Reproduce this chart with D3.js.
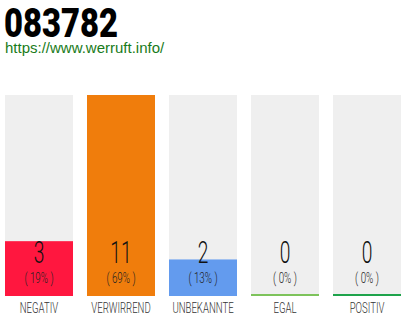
<!DOCTYPE html>
<html>
<head>
<meta charset="utf-8">
<script src="https://cdn.jsdelivr.net/npm/d3@7"></script>
<style>
  body { margin: 0; background: #fff; }
</style>
</head>
<body>
<div class="chart"></div>
<script>
const categories = ["NEGATIV", "VERWIRREND", "UNBEKANNTE", "EGAL", "POSITIV"];
const counts = [3, 11, 2, 0, 0];
const percents = ["19%", "69%", "13%", "0%", "0%"];
const colors = ["#ff173f", "#f07d0c", "#639bee", "#7dc35b", "#1ea34b"];
const title = "083782";
const url = "https://www.werruft.info/";

const width = 410;
const height = 320;

const svg = d3.select(".chart")
  .append("svg")
  .attr("width", width)
  .attr("height", height);

const x = d3.scaleBand()
  .domain(categories)
  .range([5, 401])
  .paddingInner(14 / 82)
  .paddingOuter(0);

const y = d3.scaleLinear()
  .domain([0, d3.max(counts)])
  .range([296, 95]);

// title and link
svg.append("text")
  .text(title)
  .attr("transform", "translate(4,37) scale(0.8,1)")
  .attr("font-family", "Roboto")
  .attr("font-weight", 900)
  .attr("font-size", "41px")
  .attr("fill", "#000");

svg.append("text")
  .text(url)
  .attr("x", 5)
  .attr("y", 53)
  .attr("font-family", "Liberation Sans")
  .attr("font-size", "15px")
  .attr("fill", "#197b1a");

const rows = categories.map((c, i) => ({ cat: c, count: counts[i], pct: percents[i], color: colors[i] }));

// grey backgrounds
svg.selectAll(".bg")
  .data(rows)
  .enter()
  .append("rect")
  .attr("class", "bg")
  .attr("x", d => x(d.cat))
  .attr("y", y(d3.max(counts)))
  .attr("width", x.bandwidth())
  .attr("height", y(0) - y(d3.max(counts)))
  .attr("fill", "#efefef");

// value bars (min 2px so empty categories show a line)
svg.selectAll(".bar")
  .data(rows)
  .enter()
  .append("rect")
  .attr("class", "bar")
  .attr("x", d => x(d.cat))
  .attr("y", d => Math.min(y(d.count), y(0) - 2))
  .attr("width", x.bandwidth())
  .attr("height", d => Math.max(y(0) - y(d.count), 2))
  .attr("fill", d => d.color);

svg.selectAll(".num")
  .data(rows)
  .enter()
  .append("text")
  .attr("class", "num")
  .text(d => d.count)
  .attr("transform", d => "translate(" + (x(d.cat) + x.bandwidth() / 2) + ",263) scale(0.62,1)")
  .attr("text-anchor", "middle")
  .attr("font-family", "Roboto")
  .attr("font-weight", 300)
  .attr("font-size", "31px")
  .attr("fill", "#111");

svg.selectAll(".pct")
  .data(rows)
  .enter()
  .append("text")
  .attr("class", "pct")
  .text(d => "( " + d.pct + " )")
  .attr("transform", d => "translate(" + (x(d.cat) + x.bandwidth() / 2) + ",283) scale(0.7,1)")
  .attr("text-anchor", "middle")
  .attr("font-family", "Roboto")
  .attr("font-weight", 300)
  .attr("font-size", "14px")
  .attr("fill", "#222");

svg.selectAll(".lab")
  .data(rows)
  .enter()
  .append("text")
  .attr("class", "lab")
  .text(d => d.cat)
  .attr("transform", d => "translate(" + (x(d.cat) + x.bandwidth() / 2) + ",313) scale(0.62,1)")
  .attr("text-anchor", "middle")
  .attr("font-family", "Roboto")
  .attr("font-weight", 300)
  .attr("font-size", "15.5px")
  .attr("fill", "#333");
</script>
</body>
</html>
